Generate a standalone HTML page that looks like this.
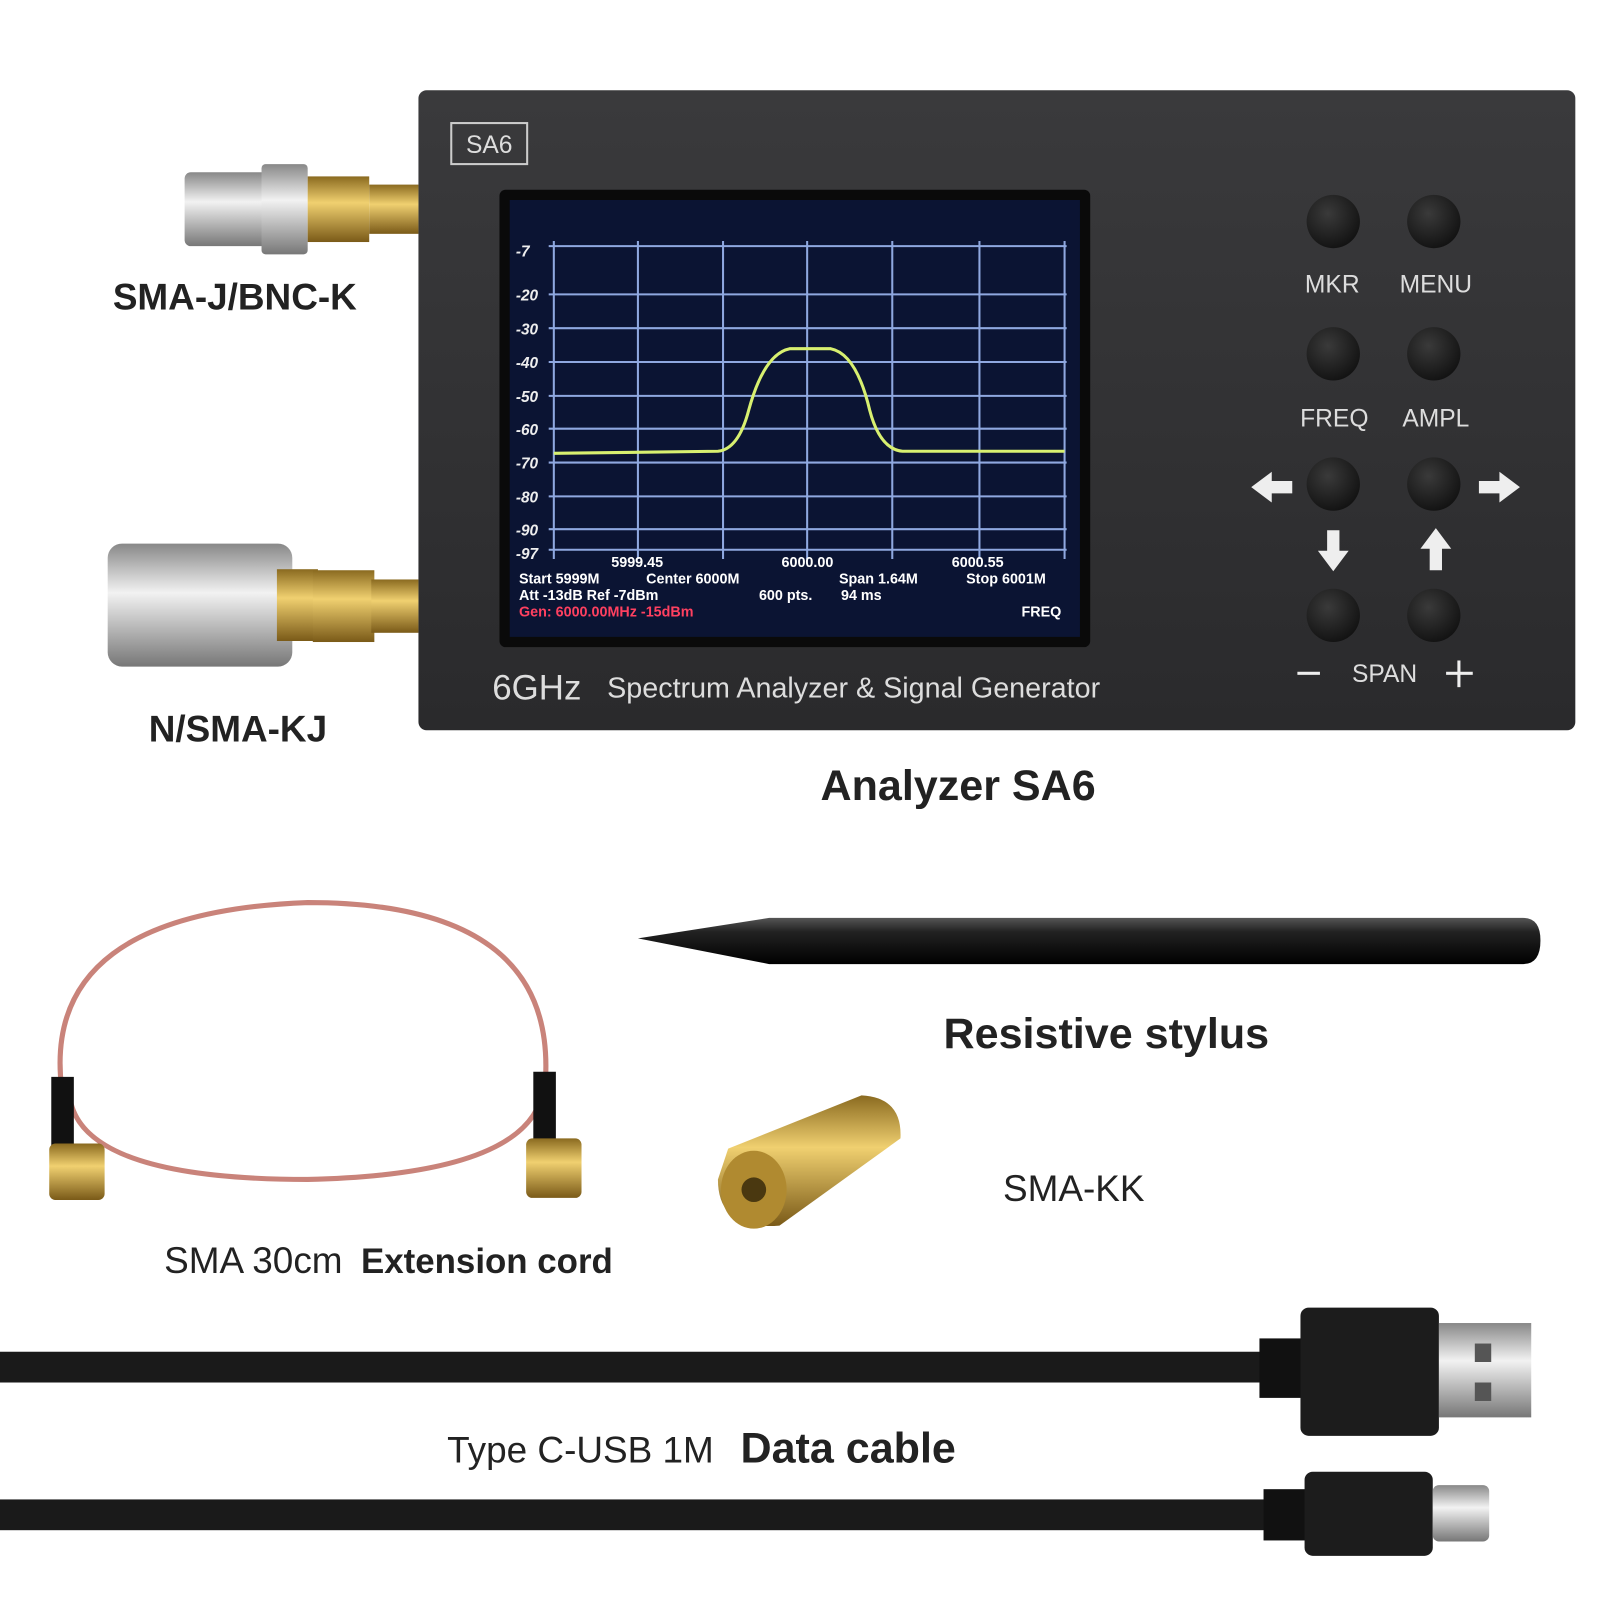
<!DOCTYPE html>
<html><head><meta charset="utf-8"><style>
html,body{margin:0;padding:0;background:#fff;width:1600px;height:1600px;overflow:hidden}
svg{display:block}
text{font-family:"Liberation Sans",sans-serif}
</style></head><body>
<svg width="1600" height="1600" viewBox="0 0 1600 1600" xmlns="http://www.w3.org/2000/svg">
<defs>
<linearGradient id="body" x1="0" y1="0" x2="0" y2="1"><stop offset="0" stop-color="#3a3a3c"/><stop offset="1" stop-color="#2a2a2c"/></linearGradient>
<linearGradient id="gold" x1="0" y1="0" x2="0" y2="1"><stop offset="0" stop-color="#8a6a20"/><stop offset="0.4" stop-color="#f0d070"/><stop offset="1" stop-color="#7a5a18"/></linearGradient>
<linearGradient id="silver" x1="0" y1="0" x2="0" y2="1"><stop offset="0" stop-color="#888"/><stop offset="0.4" stop-color="#f2f2f2"/><stop offset="1" stop-color="#777"/></linearGradient>
<linearGradient id="pen" x1="0" y1="0" x2="0" y2="1"><stop offset="0" stop-color="#555"/><stop offset="0.3" stop-color="#222"/><stop offset="1" stop-color="#000"/></linearGradient>
<radialGradient id="btn" cx="0.4" cy="0.35" r="0.7"><stop offset="0" stop-color="#3a3a3a"/><stop offset="1" stop-color="#111"/></radialGradient>
</defs>
<g transform="scale(1.0256)">
<rect x="408" y="88" width="1128" height="624" rx="8" fill="url(#body)"/>
<rect x="440" y="120" width="74" height="40" fill="none" stroke="#ccc" stroke-width="2"/>
<text x="477" y="149" font-size="24" fill="#ddd" text-anchor="middle">SA6</text>
<rect x="487" y="185" width="576" height="446" rx="6" fill="#0a0a0a"/>
<rect x="497" y="195" width="556" height="426" fill="#0b1433"/>
<g stroke="#8fa8e0" stroke-width="2">
<line x1="535" y1="240" x2="1040" y2="240"/><line x1="535" y1="287" x2="1040" y2="287"/><line x1="535" y1="320" x2="1040" y2="320"/><line x1="535" y1="353" x2="1040" y2="353"/><line x1="535" y1="386" x2="1040" y2="386"/><line x1="535" y1="418" x2="1040" y2="418"/><line x1="535" y1="451" x2="1040" y2="451"/><line x1="535" y1="484" x2="1040" y2="484"/><line x1="535" y1="516" x2="1040" y2="516"/><line x1="535" y1="536" x2="1040" y2="536"/>
<line x1="540" y1="235" x2="540" y2="545"/><line x1="622" y1="235" x2="622" y2="545"/><line x1="705" y1="235" x2="705" y2="545"/><line x1="787" y1="235" x2="787" y2="545"/><line x1="870" y1="235" x2="870" y2="545"/><line x1="955" y1="235" x2="955" y2="545"/><line x1="1038" y1="235" x2="1038" y2="545"/>
</g>
<g font-size="15" font-weight="bold" fill="#eee" font-style="italic">
<text x="503" y="250">-7</text><text x="503" y="293">-20</text><text x="503" y="326">-30</text><text x="503" y="359">-40</text><text x="503" y="392">-50</text><text x="503" y="424">-60</text><text x="503" y="457">-70</text><text x="503" y="490">-80</text><text x="503" y="522">-90</text><text x="503" y="545">-97</text>
</g>
<path d="M540 442 L700 440 Q720 438 730 400 Q745 345 770 340 L810 340 Q835 345 848 400 Q858 438 880 440 L1038 440" fill="none" stroke="#d8f070" stroke-width="3"/>
<g font-size="14" font-weight="bold" fill="#fff">
<text x="596" y="553">5999.45</text><text x="762" y="553">6000.00</text><text x="928" y="553">6000.55</text>
<text x="506" y="569">Start 5999M</text><text x="630" y="569">Center 6000M</text><text x="818" y="569">Span 1.64M</text><text x="942" y="569">Stop 6001M</text>
<text x="506" y="585">Att -13dB Ref -7dBm</text><text x="740" y="585">600 pts.</text><text x="820" y="585">94 ms</text>
<text x="996" y="601">FREQ</text>
<text x="506" y="601" fill="#ff4060">Gen: 6000.00MHz -15dBm</text>
</g>
<text x="480" y="682" font-size="34" fill="#ddd">6GHz</text>
<text x="592" y="680" font-size="28" fill="#ddd">Spectrum Analyzer &amp; Signal Generator</text>
<g fill="url(#btn)">
<circle cx="1300" cy="216" r="26"/><circle cx="1398" cy="216" r="26"/>
<circle cx="1300" cy="345" r="26"/><circle cx="1398" cy="345" r="26"/>
<circle cx="1300" cy="472" r="26"/><circle cx="1398" cy="472" r="26"/>
<circle cx="1300" cy="600" r="26"/><circle cx="1398" cy="600" r="26"/>
</g>
<g font-size="24" fill="#ddd" text-anchor="middle">
<text x="1299" y="285">MKR</text><text x="1400" y="285">MENU</text>
<text x="1301" y="416">FREQ</text><text x="1400" y="416">AMPL</text>
<text x="1350" y="665">SPAN</text>
</g>
<g fill="#eee">
<path d="M1220 475 L1240 460 L1240 469 L1260 469 L1260 481 L1240 481 L1240 490 Z"/>
<path d="M1482 475 L1462 460 L1462 469 L1442 469 L1442 481 L1462 481 L1462 490 Z"/>
<path d="M1300 557 L1285 537 L1294 537 L1294 517 L1306 517 L1306 537 L1315 537 Z"/>
<path d="M1400 515 L1385 535 L1394 535 L1394 556 L1406 556 L1406 535 L1415 535 Z"/>
<rect x="1265" y="655" width="22" height="3"/>
<rect x="1410" y="655" width="26" height="3"/><rect x="1421" y="644" width="3" height="26"/>
</g>
<rect x="180" y="168" width="110" height="72" rx="6" fill="url(#silver)"/>
<rect x="255" y="160" width="45" height="88" rx="4" fill="url(#silver)"/>
<rect x="300" y="172" width="60" height="64" fill="url(#gold)"/>
<rect x="360" y="180" width="48" height="48" fill="url(#gold)"/>
<rect x="105" y="530" width="180" height="120" rx="14" fill="url(#silver)"/>
<rect x="270" y="555" width="40" height="70" fill="url(#gold)"/>
<rect x="305" y="556" width="60" height="70" fill="url(#gold)"/>
<rect x="362" y="565" width="46" height="52" fill="url(#gold)"/>
<g font-weight="bold" fill="#222">
<text x="110" y="302" font-size="36">SMA-J/BNC-K</text>
<text x="145" y="723" font-size="36">N/SMA-KJ</text>
<text x="800" y="780" font-size="42">Analyzer SA6</text>
<text x="920" y="1022" font-size="42">Resistive stylus</text>
<text x="352" y="1241" font-size="34">Extension cord</text>
<text x="722" y="1426" font-size="42">Data cable</text>
</g>
<g fill="#222">
<text x="160" y="1241" font-size="36">SMA 30cm</text>
<text x="978" y="1171" font-size="36">SMA-KK</text>
<text x="436" y="1426" font-size="36">Type C-USB 1M</text>
</g>
<path d="M622 915 L750 895 L1485 895 Q1502 895 1502 917 Q1502 940 1485 940 L750 940 Z" fill="url(#pen)"/>
<path d="M60 1060 Q40 890 300 880 Q540 880 532 1050" fill="none" stroke="#c9837a" stroke-width="5"/>
<path d="M68 1070 Q80 1150 300 1150 Q520 1145 530 1060" fill="none" stroke="#c9837a" stroke-width="5"/>
<rect x="50" y="1050" width="22" height="70" fill="#111"/>
<rect x="520" y="1045" width="22" height="70" fill="#111"/>
<rect x="48" y="1115" width="54" height="55" rx="6" fill="url(#gold)"/>
<rect x="513" y="1110" width="54" height="58" rx="6" fill="url(#gold)"/>
<path d="M710 1120 L840 1068 Q880 1070 878 1110 L760 1195 Q700 1200 700 1150 Z" fill="url(#gold)"/>
<ellipse cx="735" cy="1160" rx="32" ry="38" fill="#b08a30"/><circle cx="735" cy="1160" r="12" fill="#4a3810"/>
<rect x="0" y="1318" width="1240" height="30" fill="#1a1a1a"/>
<rect x="1228" y="1305" width="45" height="58" fill="#111"/>
<rect x="1268" y="1275" width="135" height="125" rx="8" fill="#1c1c1c"/>
<rect x="1403" y="1290" width="90" height="92" fill="url(#silver)"/>
<rect x="1438" y="1310" width="16" height="18" fill="#555"/><rect x="1438" y="1348" width="16" height="18" fill="#555"/>
<rect x="0" y="1462" width="1250" height="30" fill="#1a1a1a"/>
<rect x="1232" y="1452" width="45" height="50" fill="#111"/>
<rect x="1272" y="1435" width="125" height="82" rx="8" fill="#1c1c1c"/>
<rect x="1397" y="1448" width="55" height="55" rx="6" fill="url(#silver)"/>
</g>
</svg>
</body></html>
